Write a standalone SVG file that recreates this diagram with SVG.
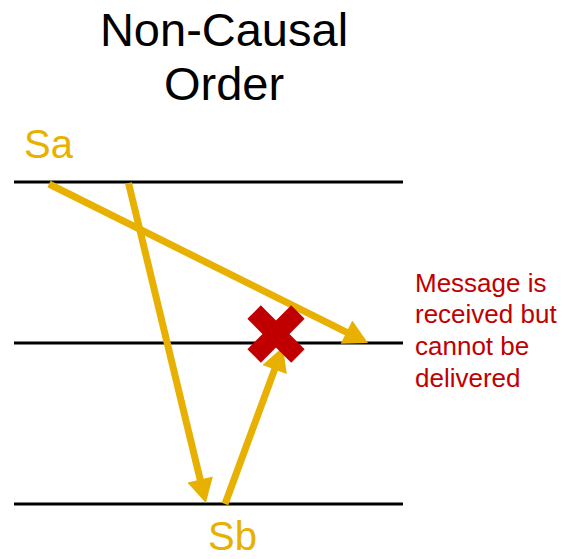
<svg xmlns="http://www.w3.org/2000/svg" width="577" height="559" viewBox="0 0 577 559">
<style>
.t{font-family:"Liberation Sans",Arial,sans-serif}
.title{font-size:47px;fill:#000;text-anchor:middle}
.proc{font-size:40px;fill:#E8B000}
.note{font-size:26px;fill:#C00000}
.tl{stroke:#000;stroke-width:3}
.arr{stroke:#E8B000;stroke-width:7;fill:none}
</style>
<defs>
<marker id="ah" markerUnits="userSpaceOnUse" markerWidth="26" markerHeight="26" viewBox="0 0 24 26" refX="2" refY="13" orient="auto">
<path d="M0,0 L24,13 L0,26 z" fill="#E8B000"/>
</marker>
</defs>
<rect width="577" height="559" fill="#fff"/>
<g id="title">
<text class="t title" x="224" y="46">Non-Causal</text>
<text class="t title" x="224" y="100">Order</text>
</g>
<g id="timelines">
<line class="tl" x1="14" y1="182" x2="403" y2="182"/>
<line class="tl" x1="14" y1="343" x2="403" y2="343"/>
<line class="tl" x1="14" y1="504" x2="403" y2="504"/>
</g>
<g id="Sa"><text class="t proc" x="24" y="158">Sa</text></g>
<g id="Sb"><text class="t proc" x="208" y="550">Sb</text></g>
<g id="connectors">
<line class="arr" x1="49" y1="184" x2="348.3" y2="333.1" marker-end="url(#ah)"/>
<line class="arr" x1="128.5" y1="183" x2="200.7" y2="481.6" marker-end="url(#ah)"/>
<line class="arr" x1="225" y1="504" x2="275.3" y2="367.6" marker-end="url(#ah)"/>
</g>
<g id="cross" transform="translate(276,334)" fill="#C00000">
<rect x="-31" y="-9.5" width="62" height="19" transform="rotate(45)"/>
<rect x="-31" y="-9.5" width="62" height="19" transform="rotate(-45)"/>
</g>
<g id="note">
<text class="t note" x="415" y="292">Message is</text>
<text class="t note" x="415" y="323">received but</text>
<text class="t note" x="415" y="355">cannot be</text>
<text class="t note" x="415" y="387">delivered</text>
</g>
</svg>
